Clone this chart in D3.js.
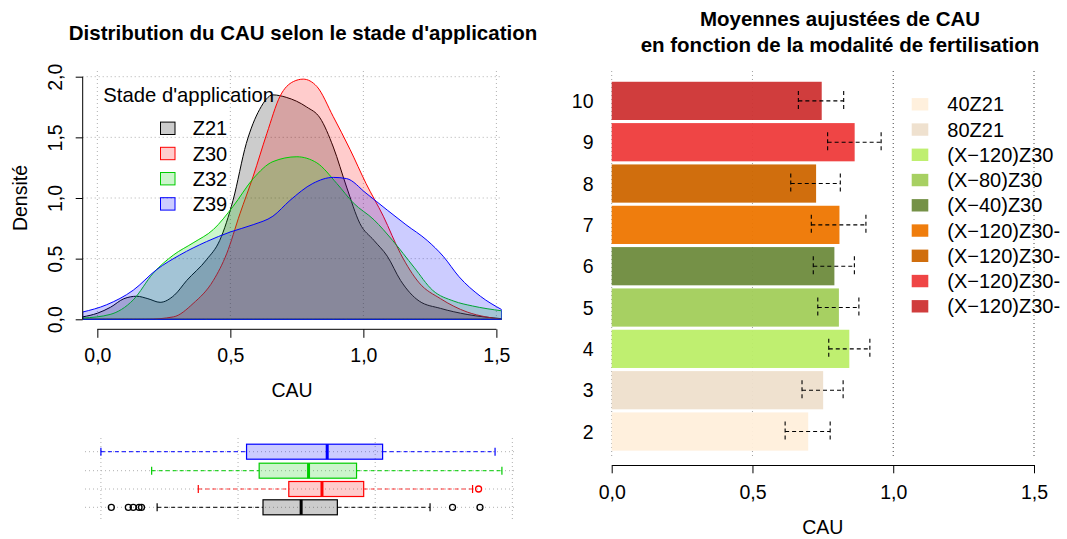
<!DOCTYPE html>
<html lang="fr">
<head>
<meta charset="utf-8">
<title>CAU - stade d'application et fertilisation</title>
<script src="https://cdn.jsdelivr.net/npm/d3@7"></script>
<style>
  body { margin: 0; background: #fff; }
  svg { font-family: "Liberation Sans", Arial, sans-serif; }
  .title { font-weight: bold; font-size: 20.5px; }
</style>
</head>
<body>
<script>

// ---- data: densities per stade (CAU, densité) ----
var stages = ["Z21", "Z30", "Z32", "Z39"];
var stageColors = ["#000000", "#FF0000", "#00CD00", "#0000FF"];
var stageFills = ["rgba(0,0,0,0.2)", "rgba(255,0,0,0.2)", "rgba(0,205,0,0.2)", "rgba(0,0,255,0.2)"];

var densZ21 = [[-0.055,0.02],[0.0,0.05],[0.05,0.10],[0.10,0.17],[0.148,0.19],[0.19,0.17],[0.236,0.14],
  [0.29,0.20],[0.336,0.32],[0.41,0.49],[0.46,0.65],[0.51,0.98],[0.56,1.45],[0.61,1.73],[0.66,1.85],
  [0.71,1.83],[0.787,1.75],[0.837,1.66],[0.887,1.42],[0.937,1.09],[0.987,0.79],[1.04,0.65],[1.09,0.52],
  [1.14,0.32],[1.21,0.15],[1.29,0.09],[1.39,0.04],[1.52,0.005]];
var densZ30 = [[-0.055,0],[0.185,0],[0.286,0.02],[0.36,0.13],[0.436,0.32],[0.486,0.54],[0.536,0.87],
  [0.586,1.18],[0.637,1.53],[0.687,1.84],[0.737,1.96],[0.774,1.98],[0.825,1.92],[0.887,1.67],[0.95,1.40],
  [1.01,1.12],[1.075,0.85],[1.14,0.54],[1.21,0.30],[1.29,0.17],[1.39,0.06],[1.46,0.02],[1.52,0]];
var densZ32 = [[-0.055,0.01],[0.048,0.04],[0.135,0.16],[0.21,0.38],[0.286,0.53],[0.36,0.63],[0.436,0.74],
  [0.51,0.93],[0.586,1.16],[0.66,1.30],[0.75,1.34],[0.825,1.29],[0.90,1.12],[0.962,0.96],[1.04,0.82],
  [1.11,0.65],[1.19,0.43],[1.26,0.24],[1.34,0.15],[1.41,0.11],[1.52,0.07]];
var densZ39 = [[-0.055,0.06],[0.035,0.12],[0.135,0.24],[0.223,0.41],[0.31,0.53],[0.41,0.64],[0.50,0.72],
  [0.586,0.78],[0.66,0.85],[0.724,0.98],[0.81,1.12],[0.887,1.17],[0.937,1.16],[1.01,1.04],[1.09,0.90],
  [1.16,0.78],[1.24,0.65],[1.30,0.52],[1.36,0.35],[1.44,0.19],[1.52,0.08]];
var densities = [densZ21, densZ30, densZ32, densZ39];

// ---- data: boxplots (same order as stages) ----
var boxLow  = [0.205, 0.355, 0.185, 0.000];
var boxQ1   = [0.591, 0.685, 0.577, 0.531];
var boxMed  = [0.730, 0.806, 0.757, 0.825];
var boxQ3   = [0.862, 0.958, 0.932, 1.027];
var boxHigh = [1.200, 1.355, 1.462, 1.437];
var boxOut  = [[0.038, 0.10, 0.118, 0.139, 0.148, 1.282, 1.382], [1.377], [], []];

// ---- data: adjusted means per modalité ----
var modalites = ["2", "3", "4", "5", "6", "7", "8", "9", "10"];
// the last four labels are cut at the figure edge in the original
var modaliteLabels = ["40Z21", "80Z21", "(X\u2212120)Z30", "(X\u221280)Z30", "(X\u221240)Z30",
  "(X\u2212120)Z30-", "(X\u2212120)Z30-", "(X\u2212120)Z30-", "(X\u2212120)Z30-"];
var modaliteColors = ["#FFEFDB", "#EEDFCC", "#BCEE68", "#A2CD5A", "#6E8B3D", "#EE7600", "#CD6600", "#EE3B3B", "#CD3333"];
var meanCAU = [0.698, 0.751, 0.844, 0.807, 0.791, 0.809, 0.726, 0.863, 0.746];
var ciLow   = [0.616, 0.676, 0.771, 0.732, 0.716, 0.709, 0.636, 0.767, 0.663];
var ciHigh  = [0.776, 0.822, 0.917, 0.878, 0.862, 0.903, 0.812, 0.957, 0.824];

var fr = d3.formatLocale({decimal: ",", thousands: " ", grouping: [3], currency: ["", " €"]});
var fmt = fr.format(".1f");
var ticks = [0, 0.5, 1, 1.5];

var W = 1067, H = 539;
var svg = d3.select("body").append("svg").attr("width", W).attr("height", H);

// ================= left: density =================
var x = d3.scaleLinear().domain([-0.055, 1.52]).range([82.7, 501.7]);
var y = d3.scaleLinear().domain([0, 2]).range([319.3, 76.7]);

svg.append("text").attr("class", "title").attr("x", 303).attr("y", 32)
  .attr("text-anchor", "middle").attr("dominant-baseline", "central")
  .text("Distribution du CAU selon le stade d'application");

svg.append("clipPath").attr("id", "clipDens").append("rect")
  .attr("x", x.range()[0]).attr("y", 60).attr("width", x.range()[1] - x.range()[0]).attr("height", 260);

var gridL = svg.append("g").attr("stroke", "#b0b0b0").attr("stroke-dasharray", "1,3");
gridL.selectAll("line.v").data(ticks).enter().append("line")
  .attr("x1", function(d) { return x(d); }).attr("x2", function(d) { return x(d); })
  .attr("y1", 71).attr("y2", 319.3);
gridL.selectAll("line.h").data([0, 0.5, 1, 1.5, 2]).enter().append("line")
  .attr("x1", x.range()[0]).attr("x2", x.range()[1])
  .attr("y1", function(d) { return y(d); }).attr("y2", function(d) { return y(d); });

var area = d3.area()
  .x(function(d) { return x(d[0]); })
  .y0(y(0))
  .y1(function(d) { return y(d[1]); })
  .curve(d3.curveMonotoneX);

var dens = svg.append("g").attr("clip-path", "url(#clipDens)");
densities.forEach(function(pts, i) {
  dens.append("path").datum(pts)
    .attr("d", function(d) { return area(d) + "Z"; })
    .attr("fill", stageFills[i])
    .attr("stroke", stageColors[i])
    .attr("stroke-width", 1);
});

// y axis (rotated labels, R style)
var yAx = svg.append("g").attr("transform", "translate(" + x.range()[0] + ",0)")
  .call(d3.axisLeft(y).tickValues([0, 0.5, 1, 1.5, 2]).tickFormat(fmt).tickSize(7).tickSizeOuter(0));
yAx.selectAll("text").attr("x", null).attr("dy", null)
  .attr("transform", "translate(-28,0) rotate(-90)")
  .attr("text-anchor", "middle").attr("dominant-baseline", "central")
  .style("font-size", "19.5px").attr("fill", "#000");
yAx.select(".domain").remove();
yAx.append("line").attr("y1", y(0)).attr("y2", y(2)).attr("stroke", "#000");

var xAx = svg.append("g").attr("transform", "translate(0,329.3)")
  .call(d3.axisBottom(x).tickValues(ticks).tickFormat(fmt).tickSize(8.5).tickSizeOuter(0));
xAx.select(".domain").remove();
xAx.append("line").attr("x1", x(0)).attr("x2", x(1.5)).attr("stroke", "#000");
xAx.selectAll("text").attr("y", null).attr("dy", null).attr("transform", "translate(0,26)")
  .attr("dominant-baseline", "central").style("font-size", "19.5px").attr("fill", "#000");

svg.append("text").attr("x", 292).attr("y", 390).attr("text-anchor", "middle")
  .attr("dominant-baseline", "central").style("font-size", "19.5px").text("CAU");
svg.append("text").attr("transform", "translate(20,198) rotate(-90)").attr("text-anchor", "middle")
  .attr("dominant-baseline", "central").style("font-size", "19.5px").text("Densité");

// legend
var legL = svg.append("g");
legL.append("text").attr("x", 103.3).attr("y", 95).attr("dominant-baseline", "central")
  .style("font-size", "20.3px").text("Stade d'application");
stages.forEach(function(s, i) {
  var cy = 128.3 + i * 25.2;
  legL.append("rect").attr("x", 160.5).attr("y", cy - 6.2).attr("width", 14.5).attr("height", 12.4)
    .attr("fill", stageFills[i]).attr("stroke", stageColors[i]);
  legL.append("text").attr("x", 192.7).attr("y", cy).attr("dominant-baseline", "central")
    .style("font-size", "20px").text(s);
});

// ================= left bottom: boxplots =================
var xb = d3.scaleLinear().domain([-0.058, 1.517]).range([85, 517]);
var rowY = [507.3, 489, 470.7, 451.7];
var bh = 7.5;

var gridB = svg.append("g").attr("stroke", "#b0b0b0").attr("stroke-dasharray", "1,3");
gridB.selectAll("line.v").data(ticks).enter().append("line")
  .attr("x1", function(d) { return xb(d); }).attr("x2", function(d) { return xb(d); })
  .attr("y1", 438).attr("y2", 520);
gridB.selectAll("line.h").data(rowY).enter().append("line")
  .attr("x1", xb.range()[0]).attr("x2", xb.range()[1])
  .attr("y1", function(d) { return d; }).attr("y2", function(d) { return d; });

stages.forEach(function(s, i) {
  var g = svg.append("g");
  var cy = rowY[i], c = stageColors[i];
  g.selectAll("line.w").data([[boxLow[i], boxQ1[i]], [boxQ3[i], boxHigh[i]]]).enter().append("line")
    .attr("x1", function(d) { return xb(d[0]); }).attr("x2", function(d) { return xb(d[1]); })
    .attr("y1", cy).attr("y2", cy)
    .attr("stroke", c).attr("stroke-opacity", 0.8).attr("stroke-dasharray", "4,3").attr("stroke-width", 1.2);
  g.selectAll("line.s").data([boxLow[i], boxHigh[i]]).enter().append("line")
    .attr("x1", function(d) { return xb(d); }).attr("x2", function(d) { return xb(d); })
    .attr("y1", cy - 4).attr("y2", cy + 4).attr("stroke", c).attr("stroke-width", 1.2);
  g.append("rect").attr("x", xb(boxQ1[i])).attr("y", cy - bh)
    .attr("width", xb(boxQ3[i]) - xb(boxQ1[i])).attr("height", 2 * bh)
    .attr("fill", stageFills[i]).attr("stroke", c).attr("stroke-width", 1.2);
  g.append("line").attr("x1", xb(boxMed[i])).attr("x2", xb(boxMed[i]))
    .attr("y1", cy - bh).attr("y2", cy + bh).attr("stroke", c).attr("stroke-width", 3);
  g.selectAll("circle").data(boxOut[i]).enter().append("circle")
    .attr("cx", function(d) { return xb(d); }).attr("cy", cy).attr("r", 3)
    .attr("fill", "none").attr("stroke", c).attr("stroke-width", 1.3);
});

// ================= right: adjusted means =================
var xr = d3.scaleLinear().domain([0, 1.5]).range([611.7, 1034]);
var yr = d3.scaleBand().domain(modalites.slice().reverse()).range([79.7, 452.7])
  .paddingInner(0.075).paddingOuter(0.05);

svg.append("text").attr("class", "title").attr("x", 840).attr("y", 18.5)
  .attr("text-anchor", "middle").attr("dominant-baseline", "central").text("Moyennes aujustées de CAU");
svg.append("text").attr("class", "title").attr("x", 840).attr("y", 44)
  .attr("text-anchor", "middle").attr("dominant-baseline", "central")
  .text("en fonction de la modalité de fertilisation");

var gridR = svg.append("g").attr("stroke-dasharray", "1,3");
gridR.selectAll("line").data(ticks).enter().append("line")
  .attr("x1", function(d) { return xr(d); }).attr("x2", function(d) { return xr(d); })
  .attr("y1", 71).attr("y2", 457)
  .attr("stroke", function(d) { return d < 1 ? "#a0a0a0" : "#444"; });

var bars = svg.append("g");
bars.selectAll("rect").data(modalites).enter().append("rect")
  .attr("x", xr(0))
  .attr("y", function(d) { return yr(d); })
  .attr("width", function(d, i) { return xr(meanCAU[i]) - xr(0); })
  .attr("height", yr.bandwidth())
  .attr("fill", function(d, i) { return modaliteColors[i]; })
  .attr("fill-opacity", 0.95);

var err = svg.append("g").attr("stroke", "#000").attr("stroke-dasharray", "4,3").attr("stroke-width", 1.1);
modalites.forEach(function(m, i) {
  var cy = yr(m) + yr.bandwidth() / 2;
  err.append("line").attr("x1", xr(ciLow[i])).attr("x2", xr(ciHigh[i])).attr("y1", cy).attr("y2", cy);
  err.append("line").attr("x1", xr(ciLow[i])).attr("x2", xr(ciLow[i])).attr("y1", cy - 10).attr("y2", cy + 10);
  err.append("line").attr("x1", xr(ciHigh[i])).attr("x2", xr(ciHigh[i])).attr("y1", cy - 10).attr("y2", cy + 10);
});

svg.append("g").selectAll("text").data(modalites).enter().append("text")
  .attr("x", 593.5).attr("y", function(d) { return yr(d) + yr.bandwidth() / 2; })
  .attr("text-anchor", "end").attr("dominant-baseline", "central")
  .style("font-size", "19.5px").text(function(d) { return d; });

var xrAx = svg.append("g").attr("transform", "translate(0,465)")
  .call(d3.axisBottom(xr).tickValues(ticks).tickFormat(fmt).tickSize(8.3).tickSizeOuter(0));
xrAx.selectAll("text").attr("y", null).attr("dy", null).attr("transform", "translate(0,26.7)")
  .attr("dominant-baseline", "central").style("font-size", "19.5px").attr("fill", "#000");

svg.append("text").attr("x", 822.8).attr("y", 527).attr("text-anchor", "middle")
  .attr("dominant-baseline", "central").style("font-size", "19.5px").text("CAU");

// legend
var legR = svg.append("g");
modaliteLabels.forEach(function(lab, i) {
  var cy = 104.3 + i * 25.25;
  legR.append("rect").attr("x", 911.7).attr("y", cy - 6.2).attr("width", 16.6).attr("height", 12.4)
    .attr("fill", modaliteColors[i]).attr("fill-opacity", 0.95);
  legR.append("text").attr("x", 947.3).attr("y", cy).attr("dominant-baseline", "central")
    .style("font-size", "20px").text(lab);
});

</script>
</body>
</html>
